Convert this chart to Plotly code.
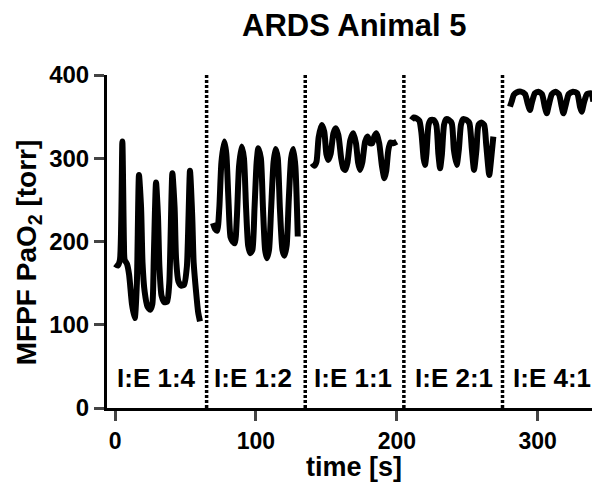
import plotly.graph_objects as go

# --- data ---
t1 = [0, 2, 3.5, 5.2, 6.3, 6.8, 8.5, 10, 12, 14, 15.5, 17, 18.5, 19.5, 21, 23, 25, 26.5, 27.5, 29.1,
      30.5, 31.5, 33, 35, 37, 38.5, 40.7, 42.3, 43.3, 45, 47, 49, 51, 53.2, 54.8, 55.8, 57.5, 59, 60.3]
v1 = [173, 171, 178, 320, 200, 178, 173, 160, 125, 108, 150, 280, 240, 175, 140, 122, 118, 125, 180, 271,
      230, 170, 135, 127, 128, 150, 282, 240, 180, 152, 147, 148, 170, 285, 230, 175, 140, 115, 104]

t2 = [69.5, 71, 72.5, 74, 75.5, 77.6, 79, 80.5, 82, 83.5, 85, 86.5, 88, 89.9, 91.5, 93, 94.5, 96, 97.5,
      99, 100.5, 101.7, 103.5, 105, 106.5, 107.8, 109.3, 110.8, 112.5, 114, 115.5, 117, 118.8, 120.2,
      121.8, 123.3, 125, 126.5, 128, 129.7]
v2 = [222, 215, 213, 240, 295, 320, 305, 250, 205, 200, 198, 230, 290, 314, 300, 240, 195, 186, 190,
      240, 295, 312, 300, 240, 190, 180, 190, 240, 295, 311, 300, 240, 190, 183,
      195, 250, 300, 311, 290, 206]

t3 = [140, 141.5, 143, 144.5, 146.7, 148.5, 150, 151.4, 153, 155, 156.6, 158.5, 160.5, 162, 163.5, 165,
      167, 169.1, 171, 172.5, 173.9, 175.5, 177.5, 179.3, 181, 182.5, 184, 185.5, 187.5, 189.5, 191.2,
      192.5, 194, 195.5, 197.5, 199.9]
v3 = [294, 291, 296, 325, 340, 332, 305, 298, 305, 330, 336, 328, 300, 288, 286, 295,
      322, 330, 318, 295, 286, 295, 320, 326, 318, 318, 326, 330, 318, 290, 276,
      285, 310, 319, 318, 320]

t4 = [210.5, 212, 214, 216, 217.5, 219, 220, 221, 222.5, 224, 226, 228, 229.5, 230.7, 232, 233.5, 235,
      237, 239, 240.5, 242.5, 244, 245.5, 247, 249.5, 251.5, 253.3, 254.8, 256.5, 258, 260, 262, 263.5,
      265.6, 267, 268.5]
v4 = [346, 349, 348, 345, 330, 300, 292, 305, 340, 346, 346, 340, 305, 288, 305, 340, 347,
      346, 342, 310, 292, 310, 340, 347, 346, 342, 310, 286, 310, 340, 343, 340, 315,
      280, 300, 326]

t5 = [280.3, 281.5, 283, 285, 288, 291, 293, 294.5, 296, 298, 300.5, 303, 305, 306.4, 308, 310, 312.5,
      315, 317, 318.2, 320, 322, 325, 328, 330, 331.2, 333, 335, 338, 339.5]
v5 = [362, 368, 376, 379, 380, 377, 365, 358, 368, 378, 380, 377, 362, 354, 365, 377, 380,
      377, 362, 354, 365, 377, 380, 378, 362, 356, 368, 377, 378, 368]

segments = [(t1, v1), (t2, v2), (t3, v3), (t4, v4), (t5, v5)]
boundaries = [65, 135, 205, 275]
labels = ["I:E 1:4", "I:E 1:2", "I:E 1:1", "I:E 2:1", "I:E 4:1"]
label_x = [29.5, 97.6, 169.2, 240.9, 309.8]
label_y = 36.6
x_ticks = [0, 100, 200, 300]
y_ticks = [0, 100, 200, 300, 400]

FONT = "Arial, Liberation Sans, Helvetica, sans-serif"

fig = go.Figure()
for t, v in segments:
    fig.add_trace(go.Scatter(x=t, y=v, mode="lines",
                             line=dict(color="black", width=6, shape="spline", smoothing=0.6),
                             showlegend=False, hoverinfo="skip"))

for b in boundaries:
    fig.add_shape(type="line", x0=b, x1=b, y0=0, y1=1.006, xref="x", yref="paper",
                  line=dict(color="black", width=3.5, dash="3px,2px"))

for lx, lab in zip(label_x, labels):
    fig.add_annotation(x=lx, y=label_y, xref="x", yref="y", text="<b>" + lab + "</b>", showarrow=False,
                       font=dict(family=FONT, size=26, color="black"),
                       xanchor="center", yanchor="middle")

# title and axis titles as annotations (paper coords)
fig.add_annotation(x=0.503, y=1.15, xref="paper", yref="paper", text="<b>ARDS Animal 5</b>",
                   showarrow=False, font=dict(family=FONT, size=31, color="black"),
                   xanchor="center", yanchor="middle")
fig.add_annotation(x=0.502, y=-0.127, xref="paper", yref="paper", text="<b>time [s]</b>",
                   showarrow=False, font=dict(family=FONT, size=27, color="black"),
                   xanchor="center", yanchor="top")
fig.add_annotation(x=-0.16, y=0.468, xref="paper", yref="paper", text="<b>MFPF PaO<sub>2</sub> [torr]</b>",
                   showarrow=False, font=dict(family=FONT, size=28, color="black"), textangle=-90,
                   xanchor="center", yanchor="middle")

# page body adds an 8px offset; size the figure so it fits the 600x483 window
fig.update_layout(
    width=592, height=475,
    margin=dict(l=99, r=0, t=67, b=75, autoexpand=False),
    paper_bgcolor="white", plot_bgcolor="white",
    font=dict(family=FONT, color="black"),
)
fig.update_xaxes(range=[-5.7, 344.2], tickvals=x_ticks, ticks="outside", ticklen=10, tickwidth=3,
                 showline=True, linewidth=3, linecolor="black", showgrid=False, zeroline=False,
                 automargin=False,
                 tickfont=dict(family=FONT, size=23, color="black", weight="bold"))
fig.update_yaxes(range=[0, 400], tickvals=y_ticks, ticks="outside", ticklen=10, tickwidth=3,
                 showline=True, linewidth=3, linecolor="black", showgrid=False, zeroline=False,
                 automargin=False,
                 tickfont=dict(family=FONT, size=24, color="black", weight="bold"))

fig.write_html("out.html")
